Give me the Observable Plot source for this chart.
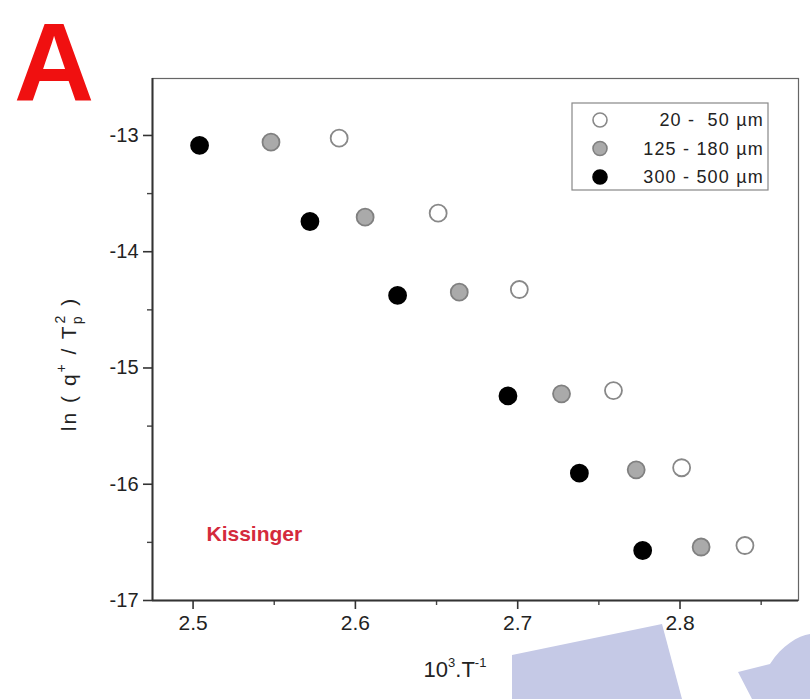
<!DOCTYPE html>
<html>
<head>
<meta charset="utf-8">
<script src="https://cdn.jsdelivr.net/npm/d3@7"></script>
<script src="https://cdn.jsdelivr.net/npm/@observablehq/plot@0.6"></script>
<style>
  html, body { margin: 0; padding: 0; background: #fff; }
  #wrap { position: relative; width: 810px; height: 699px; overflow: hidden; font-family: "Liberation Sans", Arial, sans-serif; }
  #wm { position: absolute; left: 0; top: 0; }
  #chart { position: absolute; left: 0; top: 0; }
</style>
</head>
<body>
<div id="wrap">
  <svg id="wm" width="810" height="699"></svg>
  <div id="chart"></div>
</div>
<script>
// ---- data ----
const panelLabel = "A";
const seriesNames = ["20 -  50 µm", "125 - 180 µm", "300 - 500 µm"];
const x20_50   = [2.590, 2.651, 2.701, 2.759, 2.801, 2.840];
const y20_50   = [-13.023, -13.668, -14.325, -15.194, -15.858, -16.527];
const x125_180 = [2.548, 2.606, 2.664, 2.727, 2.773, 2.813];
const y125_180 = [-13.058, -13.703, -14.348, -15.222, -15.876, -16.540];
const x300_500 = [2.504, 2.572, 2.626, 2.694, 2.738, 2.777];
const y300_500 = [-13.086, -13.740, -14.376, -15.240, -15.905, -16.570];
const xTicks = [2.5, 2.6, 2.7, 2.8];
const xMinor = [2.55, 2.65, 2.75, 2.85];
const yTicks = [-13, -14, -15, -16, -17];
const yMinor = [-13.5, -14.5, -15.5, -16.5];
const annotation = "Kissinger";

const fills   = ["#ffffff", "#aaaaaa", "#000000"];
const strokes = ["#888888", "#808080", "#000000"];

const toRows = (xs, ys) => xs.map((x, i) => ({x, y: ys[i]}));
const sets = [toRows(x20_50, y20_50), toRows(x125_180, y125_180), toRows(x300_500, y300_500)];

const font = "Liberation Sans, Arial, sans-serif";

const plot = Plot.plot({
  width: 810,
  height: 699,
  marginLeft: 152,
  marginRight: 12,
  marginTop: 78,
  marginBottom: 99,
  style: {fontFamily: font, background: "transparent", overflow: "visible"},
  x: {domain: [2.475, 2.873]},
  y: {domain: [-17, -12.51]},
  marks: [
    Plot.frame({stroke: "#666", strokeWidth: 1.2}),
    Plot.axisX(xTicks, {tickSize: 9, tickPadding: 6, tickFormat: d => d.toFixed(1), fontSize: 21, stroke: "#333", strokeWidth: 1.6, fill: "#222", label: null, style: {letterSpacing: "1px"}}),
    Plot.axisX(xMinor, {tickSize: 5, text: null, stroke: "#444", strokeWidth: 1.4, label: null}),
    Plot.axisY(yTicks, {tickSize: 9, tickPadding: 5, tickFormat: d => String(d), fontSize: 20, stroke: "#333", strokeWidth: 1.6, fill: "#222", label: null, style: {letterSpacing: "1px"}}),
    Plot.axisY(yMinor, {tickSize: 5, text: null, stroke: "#444", strokeWidth: 1.4, label: null}),
    Plot.ruleX([2.475], {stroke: "#333", strokeWidth: 2}),
    Plot.ruleY([-17], {stroke: "#333", strokeWidth: 2}),
    ...sets.map((rows, i) => Plot.dot(rows, {x: "x", y: "y", r: 8.5, fill: fills[i], stroke: strokes[i], strokeWidth: 1.8})),
    Plot.text([annotation], {text: d => d, frameAnchor: "bottom-left", dx: 54, dy: -60, textAnchor: "start", fill: "#d42a3c", fontSize: 21, fontWeight: "bold", style: {letterSpacing: "2px"}})
  ]
});
document.getElementById("chart").appendChild(plot);

const svg = d3.select(plot);

// panel letter
svg.append("text").attr("x", 14).attr("y", 101).attr("text-anchor", "start")
  .attr("font-size", 111).attr("font-weight", "bold").attr("fill", "#f01010")
  .text(panelLabel);

// legend
const lg = svg.append("g");
lg.append("rect").attr("x", 572).attr("y", 103).attr("width", 196).attr("height", 87)
  .attr("fill", "#fff").attr("stroke", "#888").attr("stroke-width", 1.2);
seriesNames.forEach((name, i) => {
  const cy = 120 + i * 28.5;
  lg.append("circle").attr("cx", 600).attr("cy", cy).attr("r", 7)
    .attr("fill", fills[i]).attr("stroke", strokes[i]).attr("stroke-width", 1.6);
  lg.append("text").attr("x", 764).attr("y", cy).attr("dy", "0.35em")
    .attr("text-anchor", "end").attr("font-size", 18).attr("fill", "#222")
    .style("white-space", "pre").style("letter-spacing", "1.2px")
    .text(name);
});

// y axis label with sub/superscripts
const yl = svg.append("text").attr("transform", "translate(76,364) rotate(-90)")
  .attr("text-anchor", "middle").attr("font-size", 21).attr("fill", "#222")
  .style("letter-spacing", "2px").style("white-space", "pre");
yl.append("tspan").text("ln ( q");
yl.append("tspan").attr("dy", -10).attr("font-size", 14).text("+");
yl.append("tspan").attr("dy", 10).text(" / T");
yl.append("tspan").attr("dy", 6).attr("font-size", 14).text("p");
yl.append("tspan").attr("dx", -9).attr("dy", -17).attr("font-size", 14).text("2");
yl.append("tspan").attr("dy", 11).text(" )");

// x axis label
const xl = svg.append("text").attr("x", 455).attr("y", 677)
  .attr("text-anchor", "middle").attr("font-size", 22).attr("fill", "#222");
xl.append("tspan").text("10");
xl.append("tspan").attr("dy", -10).attr("font-size", 13).text("3");
xl.append("tspan").attr("dy", 10).text(".T");
xl.append("tspan").attr("dy", -10).attr("font-size", 13).text("-1");

// watermark shapes (background artifacts of the reference)
const wm = d3.select("#wm");
wm.append("path").attr("d", "M512,655 L662,624 L682,699 L512,699 Z").attr("fill", "#c5c9e6");
wm.append("path").attr("d", "M738,672 L770,664 C782,645 798,636 810,634 L810,699 L752,699 Z").attr("fill", "#c5c9e6");
</script>
</body>
</html>
